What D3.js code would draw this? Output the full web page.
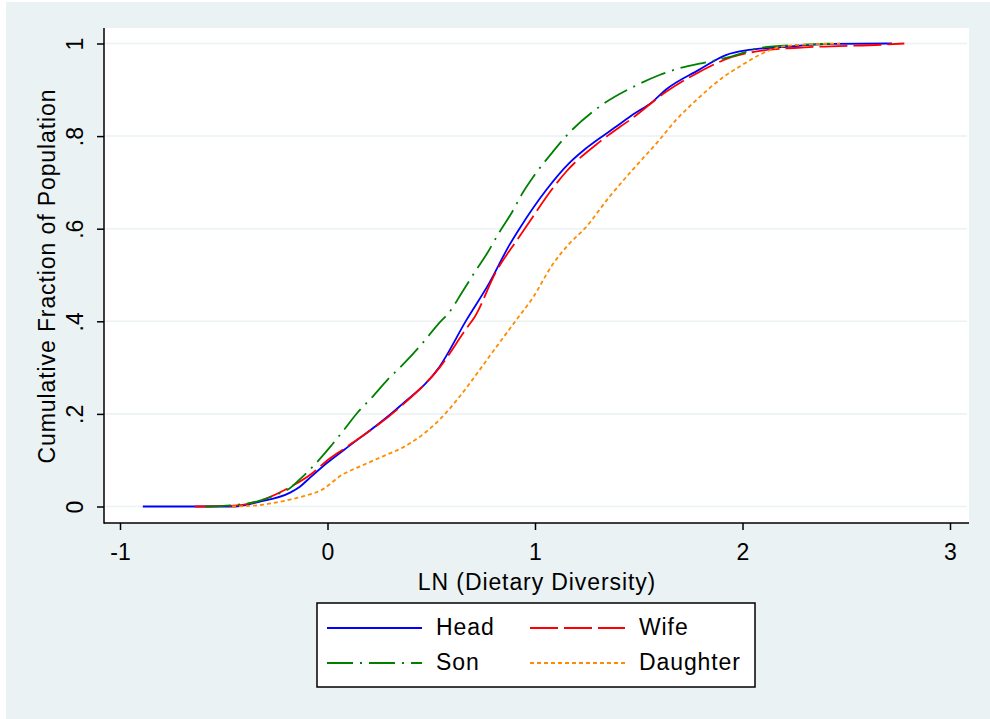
<!DOCTYPE html>
<html>
<head>
<meta charset="utf-8">
<script src="https://cdn.jsdelivr.net/npm/d3@7"></script>
<style>
  html, body { margin: 0; padding: 0; background: #fff; }
  svg { display: block; font-family: "Liberation Sans", Arial, sans-serif; }
</style>
</head>
<body>
<div id="container"></div>
<script>
// values (LN dietary diversity vs cumulative fraction)
const headX = [-0.89, -0.45, -0.33, -0.18, -0.135, -0.09, 0, 0.082, 0.347, 0.54, 0.67, 0.78, 0.877, 0.925, 1.055, 1.166, 1.25, 1.39, 1.47, 1.566, 1.63, 1.79, 1.92, 2.03, 2.19, 2.43, 2.72];
const headY = [0, 0, 0.01, 0.03, 0.042, 0.06, 0.095, 0.123, 0.216, 0.302, 0.403, 0.483, 0.565, 0.6, 0.684, 0.742, 0.775, 0.82, 0.846, 0.874, 0.9, 0.943, 0.975, 0.986, 0.992, 0.999, 1.0];

const wifeX = [-0.64, -0.45, -0.33, -0.18, -0.07, 0, 0.08, 0.35, 0.54, 0.67, 0.71, 0.81, 0.925, 0.99, 1.08, 1.15, 1.31, 1.41, 1.47, 1.63, 1.79, 1.95, 2.12, 2.32, 2.70, 2.78];
const wifeY = [0, 0.002, 0.012, 0.042, 0.073, 0.10, 0.125, 0.215, 0.30, 0.385, 0.41, 0.505, 0.583, 0.626, 0.684, 0.723, 0.787, 0.82, 0.839, 0.895, 0.938, 0.971, 0.986, 0.992, 0.998, 1.0];

const sonX = [-0.59, -0.45, -0.33, -0.25, -0.18, -0.135, -0.063, 0.01, 0.08, 0.145, 0.217, 0.29, 0.371, 0.443, 0.54, 0.588, 0.645, 0.708, 0.771, 0.829, 0.887, 0.94, 0.998, 1.084, 1.15, 1.30, 1.49, 1.6, 1.7, 1.83, 1.94, 2.08, 2.27, 2.45];
const sonY = [0, 0.003, 0.012, 0.025, 0.04, 0.058, 0.09, 0.127, 0.166, 0.203, 0.237, 0.274, 0.31, 0.345, 0.397, 0.42, 0.46, 0.505, 0.548, 0.593, 0.634, 0.677, 0.716, 0.765, 0.8, 0.86, 0.91, 0.932, 0.947, 0.96, 0.971, 0.99, 0.997, 1.0];

const daughterX = [-0.46, -0.33, -0.18, -0.135, -0.024, 0.072, 0.154, 0.265, 0.361, 0.458, 0.554, 0.636, 0.699, 0.78, 0.91, 0.988, 1.084, 1.16, 1.239, 1.359, 1.47, 1.6, 1.68, 1.778, 1.9, 2.0, 2.08, 2.16, 2.27, 2.47];
const daughterY = [0, 0.003, 0.015, 0.02, 0.037, 0.069, 0.086, 0.108, 0.127, 0.155, 0.194, 0.237, 0.274, 0.324, 0.403, 0.45, 0.522, 0.565, 0.6, 0.669, 0.727, 0.792, 0.835, 0.878, 0.925, 0.954, 0.975, 0.99, 0.997, 1.0];

const seriesNames = ['Head', 'Wife', 'Son', 'Daughter'];
const xTicks = [-1, 0, 1, 2, 3];
const yTicks = [0, 0.2, 0.4, 0.6, 0.8, 1];
const yTickLabels = ['0', '.2', '.4', '.6', '.8', '1'];

const width = 990; const height = 719;
const plot = {left: 104, right: 969, top: 28, bottom: 523};
const fontSize = 23; const spacing = 0.9;

const svg = d3.select('#container').append('svg')
    .attr('width', width)
    .attr('height', height);

// backgrounds
svg.append('rect').attr('x', 6).attr('y', 2).attr('width', width - 6).attr('height', height - 2).attr('fill', '#eaf2f3');
svg.append('rect').attr('x', plot.left).attr('y', plot.top)
    .attr('width', plot.right - plot.left).attr('height', plot.bottom - plot.top).attr('fill', '#fff');

const x = d3.scaleLinear().domain([-1, 3]).range([120, 950]);
const y = d3.scaleLinear().domain([0, 1]).range([506.5, 43.5]);

// gridlines
svg.append('g').selectAll('line').data(yTicks).enter().append('line')
    .attr('x1', plot.left + 1).attr('x2', plot.right - 2)
    .attr('y1', (d) => y(d)).attr('y2', (d) => y(d))
    .attr('stroke', '#eaf2f3').attr('stroke-width', 1.5);

// series
const series = [
  {name: seriesNames[0], xs: headX, ys: headY, color: '#0000ff', dash: null},
  {name: seriesNames[1], xs: wifeX, ys: wifeY, color: '#ff0000', dash: '28,6'},
  {name: seriesNames[2], xs: sonX, ys: sonY, color: '#008000', dash: '26,7,2,7'},
  {name: seriesNames[3], xs: daughterX, ys: daughterY, color: '#ff8c00', dash: '4,3'},
];

const line = d3.line()
    .x((d) => x(d[0]))
    .y((d) => y(d[1]))
    .curve(d3.curveMonotoneX);

svg.append('g').selectAll('path').data(series).enter().append('path')
    .attr('d', (s) => line(s.xs.map((v, i) => [v, s.ys[i]])))
    .attr('fill', 'none')
    .attr('stroke', (s) => s.color)
    .attr('stroke-width', 1.8)
    .attr('stroke-dasharray', (s) => s.dash);

// axes
const yAxis = svg.append('g').attr('transform', 'translate(' + plot.left + ',0)')
    .call(d3.axisLeft(y).tickValues(yTicks).tickSize(7).tickFormat((d, i) => yTickLabels[i]));
yAxis.select('.domain').remove();
yAxis.selectAll('.tick line').attr('stroke', '#000').attr('stroke-width', 1.5);
yAxis.selectAll('.tick text')
    .attr('x', 0).attr('y', 0).attr('dy', null)
    .attr('transform', 'translate(-21,0) rotate(-90)')
    .attr('text-anchor', 'middle')
    .attr('font-size', fontSize).attr('fill', '#000');

const xAxis = svg.append('g').attr('transform', 'translate(0,' + plot.bottom + ')')
    .call(d3.axisBottom(x).tickValues(xTicks).tickSize(7).tickFormat((d) => String(d)));
xAxis.select('.domain').remove();
xAxis.selectAll('.tick line').attr('stroke', '#000').attr('stroke-width', 1.5);
xAxis.selectAll('.tick text').attr('y', 37).attr('dy', null)
    .attr('font-size', fontSize).attr('fill', '#000');

svg.append('line').attr('x1', plot.left).attr('x2', plot.left)
    .attr('y1', plot.top).attr('y2', plot.bottom + 0.75)
    .attr('stroke', '#000').attr('stroke-width', 1.5);
svg.append('line').attr('x1', plot.left).attr('x2', plot.right)
    .attr('y1', plot.bottom).attr('y2', plot.bottom)
    .attr('stroke', '#000').attr('stroke-width', 1.5);

// axis titles
svg.append('text').attr('transform', 'translate(55,276) rotate(-90)')
    .attr('text-anchor', 'middle').attr('font-size', fontSize).attr('letter-spacing', spacing).attr('fill', '#000')
    .text('Cumulative Fraction of Population');
svg.append('text').attr('x', 537).attr('y', 590)
    .attr('text-anchor', 'middle').attr('font-size', fontSize).attr('letter-spacing', spacing).attr('fill', '#000')
    .text('LN (Dietary Diversity)');

// legend
const legend = svg.append('g');
legend.append('rect').attr('x', 317).attr('y', 603).attr('width', 438).attr('height', 84)
    .attr('fill', '#fff').attr('stroke', '#000').attr('stroke-width', 1.5);
const legendPos = [[327, 628], [530, 628], [327, 663], [530, 663]];
const items = legend.selectAll('.item').data(series).enter().append('g')
    .attr('transform', (d, i) => 'translate(' + legendPos[i][0] + ',' + legendPos[i][1] + ')');
items.append('line').attr('x1', 0).attr('x2', 95).attr('y1', 0).attr('y2', 0)
    .attr('stroke', (d) => d.color).attr('stroke-width', 1.8)
    .attr('stroke-dasharray', (d) => d.dash);
items.append('text').attr('x', 109).attr('y', 7).attr('font-size', fontSize).attr('letter-spacing', spacing).attr('fill', '#000')
    .text((d) => d.name);
</script>
</body>
</html>
